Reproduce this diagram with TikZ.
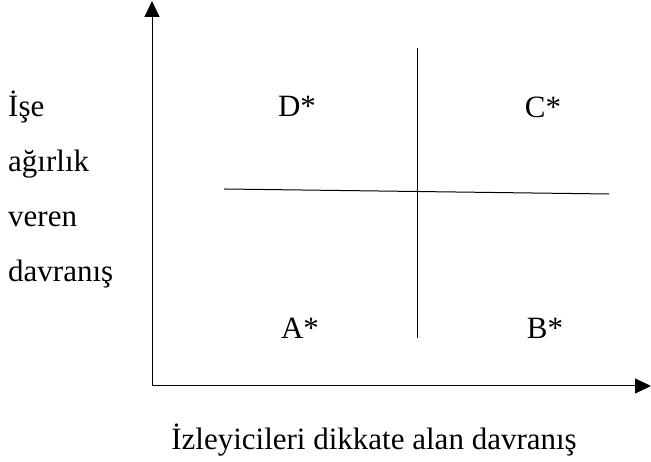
\documentclass[tikz,border=0pt]{standalone}
\usepackage{fontspec}
\setmainfont{Liberation Serif}
\usetikzlibrary{arrows.meta}
\begin{document}
\begin{tikzpicture}[x=1pt,y=1pt,font=\fontsize{31}{36}\selectfont, line join=round, >={Triangle[length=16pt,width=15pt]}]
	\useasboundingbox (0,0) rectangle (651,462);
	% eksenler
	\coordinate (O) at (152,76);
	\coordinate (yuc) at (152,461);
	\coordinate (xuc) at (651,76);
	\draw[line width=1pt,->] (O) -- (yuc);
	\draw[line width=1pt,->] (O) -- (xuc);
	% bolme cizgileri
	\coordinate (dust) at (417,414);
	\coordinate (dalt) at (417,124);
	\coordinate (ysol) at (224,273);
	\coordinate (ysag) at (609,268);
	\draw[line width=1pt] (dust) -- (dalt);
	\draw[line width=1pt] (ysol) -- (ysag);
	% bolgeler
	\node[anchor=base] (D) at (297,345) {D*};
	\node[anchor=base] (C) at (543,344) {C*};
	\node[anchor=base] (A) at (300,123) {A*};
	\node[anchor=base] (B) at (545,123) {B*};
	% eksen etiketleri
	\node[anchor=base west,inner sep=0pt] (y1) at (8,345) {İşe};
	\node[anchor=base west,inner sep=0pt] (y2) at (8,290) {ağırlık};
	\node[anchor=base west,inner sep=0pt] (y3) at (8,235) {veren};
	\node[anchor=base west,inner sep=0pt] (y4) at (8,180) {davranış};
	\node[anchor=base] (xlab) at (374,12) {İzleyicileri dikkate alan davranış};
\end{tikzpicture}
\end{document}
